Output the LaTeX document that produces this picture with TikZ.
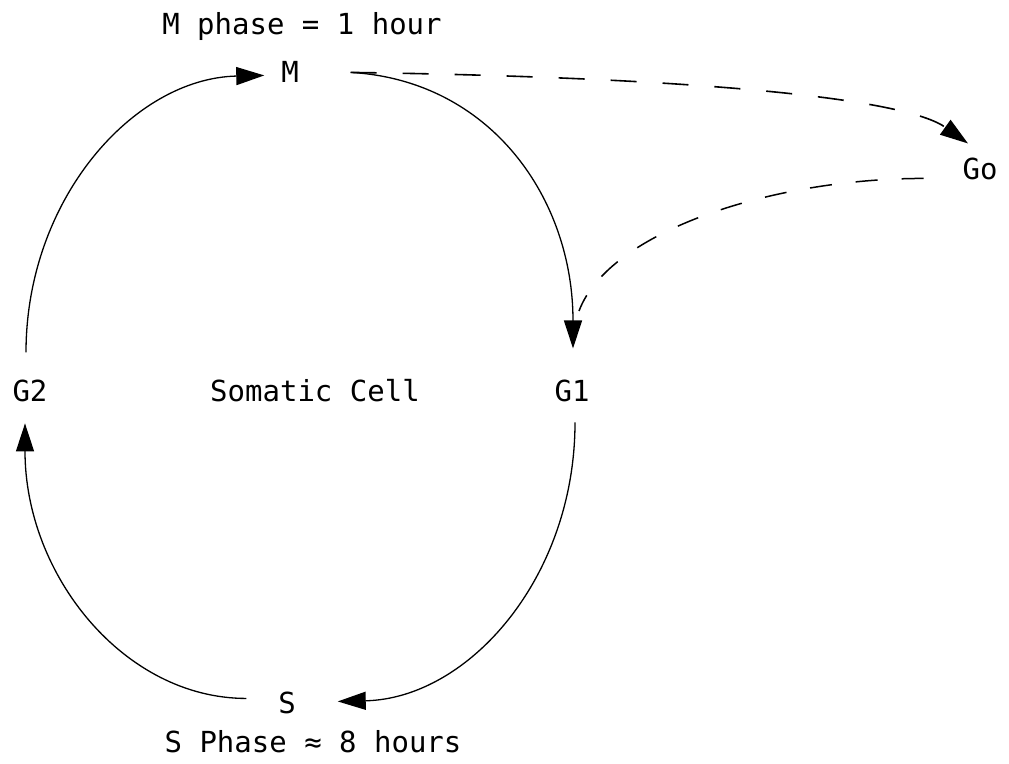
\documentclass[tikz,border=0pt]{standalone}
\usepackage{fontspec}
\setmainfont{DejaVu Sans Mono}
\usetikzlibrary{arrows.meta}
\begin{document}
\begin{tikzpicture}[x=1pt,y=1pt,
  lbl/.style={inner sep=0pt, outer sep=0pt, anchor=base, font=\fontsize{29}{32}\selectfont},
  arc/.style={line width=1.3pt, -{Triangle[length=28pt,width=18pt]}},
  dsh/.style={line width=1.6pt, dash pattern=on 26pt off 26pt},
  dshb/.style={line width=1.5pt, dash pattern=on 22pt off 24pt}]
\useasboundingbox (0,0) rectangle (1009,763);
% labels
\node[lbl] (title) at (302,728) {M phase = 1 hour};
\node[lbl] (M) at (290,680) {M};
\node[lbl] (Go) at (980,583) {Go};
\node[lbl] (G1) at (572,361) {G1};
\node[lbl] (G2) at (30,361) {G2};
\node[lbl] (cell) at (315,361) {Somatic Cell};
\node[lbl] (S) at (287,50) {S};
\node[lbl] (sphase) at (313,11) {S Phase ≈ 8 hours};
\coordinate (jn) at (579,452);
% cycle
\draw[arc] ([shift={(-4,28)}]G2.north) .. controls +(0,153) and +(-131,-3) .. ([shift={(-17,-3)}]M.west);
\draw[arc] ([shift={(52,0)}]M.east) .. controls +(140,-8) and +(0,150) .. ([shift={(1,32)}]G1.north);
\draw[arc] ([shift={(3,-20)}]G1.south) .. controls +(0,-155) and +(131,3) .. ([shift={(42,1)}]S.east);
\draw[arc] ([shift={(-32,4)}]S.west) .. controls +(-122,0) and +(0,-152) .. ([shift={(-5,-21)}]G2.south);
% G0 branch
\draw[dsh, -{Triangle[length=28pt,width=18pt]}] ([shift={(52,0)}]M.east) .. controls +(350,-5) and +(-63,45) .. ([shift={(-12,15)}]Go.north);
\draw[dshb] ([shift={(-39,-9)}]Go.west) .. controls +(-150,0) and +(30,80) .. (jn);
\end{tikzpicture}
\end{document}
